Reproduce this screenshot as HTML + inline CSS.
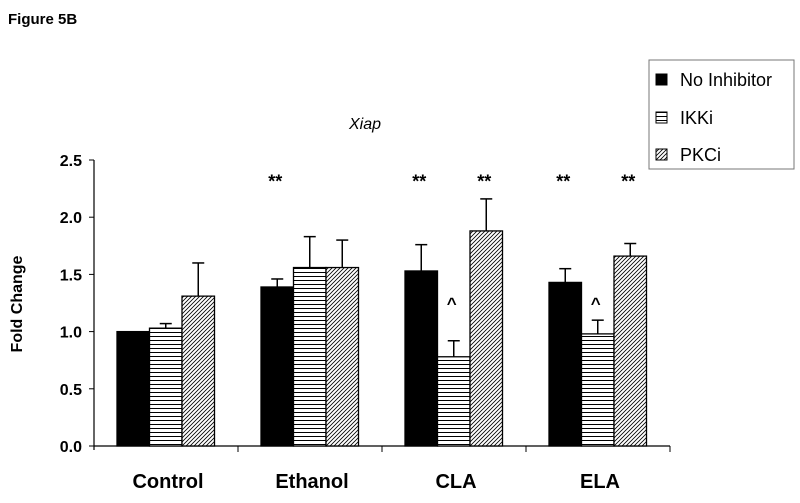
<!DOCTYPE html>
<html><head><meta charset="utf-8"><style>
body{margin:0;background:#fff;width:800px;height:498px;overflow:hidden;font-family:"Liberation Sans",Arial,sans-serif}
</style></head><body>
<svg width="800" height="498" xmlns="http://www.w3.org/2000/svg">
<defs>
<pattern id="hz" width="6" height="4" patternUnits="userSpaceOnUse"><rect width="6" height="4" fill="#fff"/><line x1="0" y1="0.5" x2="6" y2="0.5" stroke="#000" stroke-width="1"/></pattern>
<pattern id="dg" width="4" height="4" patternUnits="userSpaceOnUse"><rect width="4" height="4" fill="#fff"/><path d="M-1,5 L5,-1 M-1,1 L1,-1 M3,5 L5,3" stroke="#000" stroke-width="0.8"/></pattern>
</defs>
<text x="8" y="24" font-size="15" font-weight="bold">Figure 5B</text>
<text x="365" y="129" font-size="16" font-style="italic" text-anchor="middle">Xiap</text>
<text transform="translate(22,304) rotate(-90)" font-size="16" font-weight="bold" text-anchor="middle">Fold Change</text>
<g id="plot"></g>
<g>
<rect x="649" y="60" width="145" height="109" fill="#fff" stroke="#777" stroke-width="1"/>
<rect x="656" y="74" width="11" height="11" fill="#000" stroke="#000"/>
<text x="680" y="86" font-size="18">No Inhibitor</text>
<rect x="656" y="112" width="11" height="11" fill="url(#hz)" stroke="#000"/>
<text x="680" y="124" font-size="18">IKKi</text>
<rect x="656" y="149" width="11" height="11" fill="url(#dg)" stroke="#000"/>
<text x="680" y="161" font-size="18">PKCi</text>
</g>
</svg>
<script>
const categories=["Control","Ethanol","CLA","ELA"];
const noInhibitor=[1.0,1.39,1.53,1.43];
const noInhibitorErr=[0,0.07,0.23,0.12];
const ikki=[1.03,1.56,0.78,0.98];
const ikkiErr=[0.04,0.27,0.14,0.12];
const pkci=[1.31,1.56,1.88,1.66];
const pkciErr=[0.29,0.24,0.28,0.11];
const yTicks=[0,0.5,1.0,1.5,2.0,2.5];
const marks=[["","",""],["**","",""],["**","^","**"],["**","^","**"]];
const NS="http://www.w3.org/2000/svg";
const g=document.getElementById('plot');
const x0=94,y0=446,catW=144,ppu=114.4;
const y=v=>y0-v*ppu;
function el(t,a){const e=document.createElementNS(NS,t);for(const k in a)e.setAttribute(k,a[k]);g.appendChild(e);return e;}
let ax=el('line',{x1:x0,y1:y(2.5),x2:x0,y2:y0+4,stroke:'#000','stroke-width':1.2});


let bx=el('line',{x1:x0,y1:y0,x2:x0+catW*categories.length,y2:y0,stroke:'#000','stroke-width':1.2});


yTicks.forEach(t=>{
 el('line',{x1:x0-5,y1:y(t),x2:x0,y2:y(t),stroke:'#000'});
 const tx=el('text',{x:x0-12,y:y(t)+6,'font-size':16,'font-weight':'bold','text-anchor':'end'});
 tx.textContent=t.toFixed(1);
 
 
});
const series=[[noInhibitor,noInhibitorErr,'#000'],[ikki,ikkiErr,'url(#hz)'],[pkci,pkciErr,'url(#dg)']];
categories.forEach((c,i)=>{
 const cx=x0+i*catW;
 el('line',{x1:cx+catW,y1:y0,x2:cx+catW,y2:y0+6,stroke:'#000'});
 const lb=el('text',{x:cx+catW/2+2,y:y0+42,'font-size':20,'font-weight':'bold','text-anchor':'middle'});
 lb.textContent=c;
 
 
 series.forEach((s,j)=>{
  const bw=32.5,bxl=cx+23+j*bw,v=s[0][i],e=s[1][i];
  if(e>0){
   el('line',{x1:bxl+bw/2,y1:y(v),x2:bxl+bw/2,y2:y(v+e),stroke:'#000','stroke-width':1.5});
   el('line',{x1:bxl+bw/2-6,y1:y(v+e),x2:bxl+bw/2+6,y2:y(v+e),stroke:'#000','stroke-width':1.5});
  }
  const r=el('rect',{x:bxl,y:y(v),width:bw,height:v*ppu,fill:s[2],stroke:'#000','stroke-width':1.3});
  
  
  const m=marks[i][j];
  if(m){
   const my=m==='^'?y(1.31)+13:y(2.26);
   const t=el('text',{x:bxl+bw/2-2,y:my,'font-size':m==='^'?17:18,'font-weight':'bold','text-anchor':'middle'});
   t.textContent=m;
   
   
  }
 });
});
</script>
</body></html>
